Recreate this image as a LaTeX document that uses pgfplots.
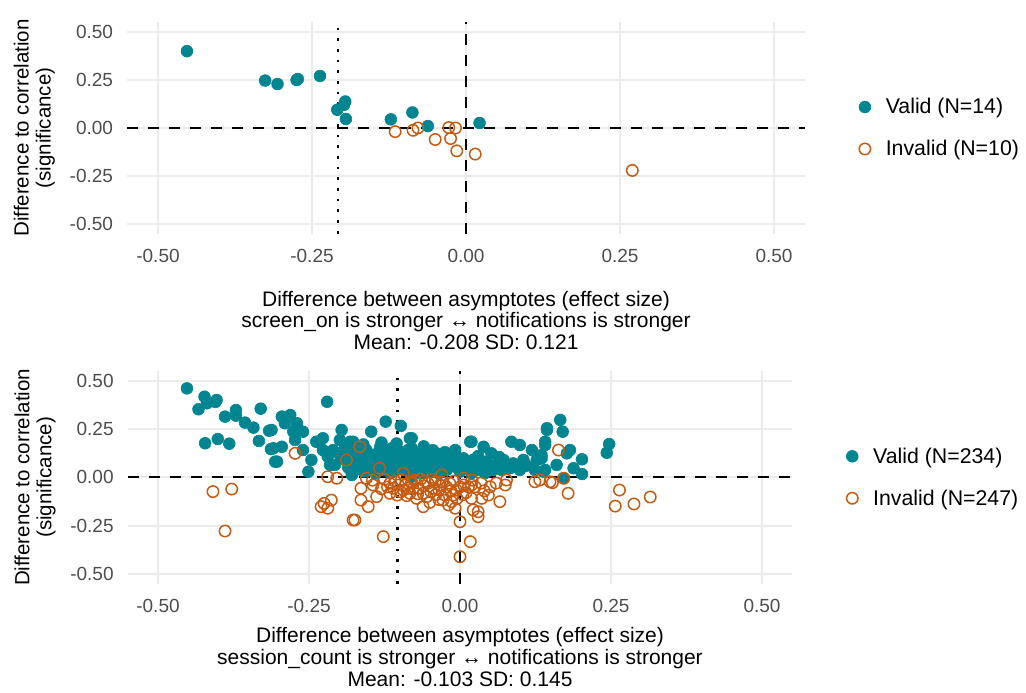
\documentclass[border=0pt]{standalone}
\usepackage{pgfplots}
\pgfplotsset{compat=1.18}
\usepackage{fontspec}
\setmainfont{Liberation Sans}
\definecolor{vteal}{RGB}{0,133,145}
\definecolor{iorange}{RGB}{197,90,17}
\definecolor{gridc}{RGB}{235,235,235}
\definecolor{ticktext}{RGB}{77,77,77}
\pgfplotsset{
  myax/.style={
    scale only axis,
    xmin=-0.55,xmax=0.55,ymin=-0.55,ymax=0.55,
    axis line style={draw=none},
    tick style={draw=none},
    major tick length=0pt,
    xtick={-0.5,-0.25,0,0.25,0.5},
    xticklabels={-0.50,-0.25,0.00,0.25,0.50},
    ytick={-0.5,-0.25,0,0.25,0.5},
    yticklabels={-0.50,-0.25,0.00,0.25,0.50},
    grid=major,
    major grid style={color=gridc,line width=2pt},
    xticklabel style={font=\fontsize{19}{20}\selectfont, text=ticktext, anchor=north, inner sep=0pt, yshift=-15.5pt},
    yticklabel style={font=\fontsize{19}{20}\selectfont, text=ticktext, anchor=east, inner sep=0pt, xshift=-14pt},
    ylabel style={font=\fontsize{20.5}{22}\selectfont, align=center, at={(axis description cs:0,0.5)}, anchor=south, inner sep=0pt, yshift=72pt},
    legend style={draw=none, fill=none, at={(1,0.5)}, anchor=west, xshift=51pt, font=\fontsize{21.3}{22}\selectfont, row sep=25pt, nodes={inner sep=0pt}, /tikz/every odd column/.append style={column sep=15pt}},
    legend cell align=left,
    clip=false,
  },
  validp/.style={only marks, color=vteal, mark=*, mark size=5.9pt, mark options={fill=vteal, draw=vteal, line width=0.6pt},
    legend image code/.code={\draw[##1] plot coordinates {(0pt,0pt)};}},
  invalp/.style={only marks, color=iorange, mark=o, mark size=5.7pt, mark options={draw=iorange, fill=none, line width=1.5pt},
    legend image code/.code={\draw[##1] plot coordinates {(0pt,0pt)};}},
  hl/.style={forget plot, black, line width=2pt, dash pattern=on 11pt off 10pt},
  dl/.style={forget plot, black, line width=2.7pt, dash pattern=on 2.7pt off 8pt},
}
\begin{document}
\begin{tikzpicture}[x=1pt,y=1pt]
\useasboundingbox (0,0) rectangle (1026,693);
% ---------------- top panel ----------------
\begin{axis}[myax, at={(127.2pt,459.4pt)}, anchor=south west, width=677.6pt, height=211.2pt,
  xlabel style={font=\fontsize{21}{21.8}\selectfont, align=center, at={(axis description cs:0.5,0)}, anchor=north, inner sep=0pt, yshift=-57pt},
  xlabel={Difference between asymptotes (effect size)\\screen\_on is stronger ↔ notifications is stronger\\Mean: -0.208 SD: 0.121},
  ylabel={Difference to correlation\\(significance)}]
\addplot[hl] coordinates {(-0.55,0) (0.55,0)};
\addplot[hl] coordinates {(0,-0.55) (0,0.55)};
\addplot[dl] coordinates {(-0.208,-0.55) (-0.208,0.55)};
\addplot[validp] coordinates {
(-0.453,0.400) (-0.326,0.247) (-0.306,0.229) (-0.275,0.250) (-0.273,0.255)
(-0.237,0.271) (-0.209,0.095) (-0.196,0.138) (-0.198,0.121) (-0.195,0.047)
(-0.122,0.045) (-0.087,0.081) (-0.062,0.010) (0.022,0.026)
};
\addlegendentry{Valid (N=14)}
\addplot[invalp] coordinates {
(-0.115,-0.019) (-0.086,-0.012) (-0.078,0.000) (-0.050,-0.060) (-0.028,0.002)
(-0.017,0.000) (-0.025,-0.055) (-0.015,-0.119) (0.015,-0.136) (0.270,-0.221)
};
\addlegendentry{Invalid (N=10)}
\end{axis}
% ---------------- bottom panel ----------------
\begin{axis}[myax, at={(127.8pt,109.4pt)}, anchor=south west, width=664.4pt, height=212.6pt,
  xlabel style={font=\fontsize{21}{21.8}\selectfont, align=center, at={(axis description cs:0.5,0)}, anchor=north, inner sep=0pt, yshift=-43.6pt},
  xlabel={Difference between asymptotes (effect size)\\session\_count is stronger ↔ notifications is stronger\\Mean: -0.103 SD: 0.145},
  ylabel={Difference to correlation\\(significance)}]
\addplot[hl] coordinates {(-0.55,0) (0.55,0)};
\addplot[hl] coordinates {(0,-0.55) (0,0.55)};
\addplot[dl] coordinates {(-0.103,-0.55) (-0.103,0.55)};
\addplot[validp] coordinates {
(-0.452,0.460) (-0.423,0.417) (-0.433,0.352) (-0.419,0.383) (-0.403,0.400) (-0.405,0.390)
(-0.389,0.314) (-0.371,0.348) (-0.371,0.319) (-0.356,0.283) (-0.342,0.257) (-0.330,0.355)
(-0.316,0.241) (-0.333,0.188) (-0.313,0.146) (-0.306,0.081) (-0.422,0.176) (-0.401,0.198)
(-0.382,0.174)
(-0.220,0.391) (-0.295,0.314) (-0.281,0.322) (-0.290,0.280) (-0.270,0.280) (-0.276,0.236)
(-0.260,0.236) (-0.312,0.245) (-0.309,0.150) (-0.295,0.158) (-0.303,0.081) (-0.273,0.193)
(-0.260,0.141) (-0.246,0.090) (-0.251,0.029) (-0.238,0.184) (-0.227,0.202) (-0.227,0.141)
(-0.219,0.107) (-0.210,0.141) (-0.207,0.064) (-0.196,0.245) (-0.199,0.193) (-0.190,0.158)
(-0.182,0.184) (-0.179,0.012) (-0.182,0.107) (-0.215,0.064)
(-0.123,0.288) (-0.098,0.266) (-0.147,0.236) (-0.083,0.202) (-0.177,0.184) (-0.172,0.150)
(-0.155,0.141) (-0.132,0.158) (-0.113,0.150) (-0.099,0.132) (-0.086,0.141) (-0.161,0.107)
(-0.144,0.115) (-0.128,0.098) (-0.110,0.115) (-0.094,0.098) (-0.080,0.107) (-0.179,0.021)
(-0.166,0.055) (-0.149,0.038) (-0.127,0.038) (-0.110,0.047) (-0.094,0.038) (-0.080,0.047)
(-0.170,0.085) (-0.155,0.075) (-0.140,0.070) (-0.120,0.070) (-0.100,0.065) (-0.085,0.072)
(-0.165,0.120) (-0.135,0.130) (-0.118,0.125) (-0.105,0.085) (-0.090,0.060) (-0.150,0.100)
(-0.175,0.110) (-0.140,0.020) (-0.115,0.020) (-0.160,0.030)
(-0.190,0.090) (-0.200,0.120) (-0.185,0.050) (-0.130,0.180) (-0.160,0.170) (-0.105,0.175)
(-0.080,0.150) (-0.060,0.160) (-0.045,0.140) (-0.025,0.130) (-0.010,0.100)
(-0.080,0.202) (-0.061,0.141) (-0.039,0.124) (-0.008,0.141) (0.017,0.184) (-0.077,0.107)
(-0.050,0.090) (-0.028,0.107) (0.006,0.098) (0.022,0.090) (-0.072,0.038) (-0.055,0.047)
(-0.033,0.055) (-0.011,0.064) (0.011,0.047) (-0.080,0.003) (-0.022,0.038) (0.000,0.029)
(0.019,0.021) (-0.063,0.072) (-0.041,0.064)
(-0.070,0.080) (-0.055,0.100) (-0.045,0.030) (-0.020,0.080) (-0.005,0.050) (0.010,0.075)
(-0.065,0.020) (-0.035,0.020) (-0.015,0.110) (-0.070,0.120)
(0.019,0.184) (0.039,0.158) (0.052,0.124) (0.085,0.184) (0.099,0.167) (0.119,0.141)
(0.141,0.184) (0.144,0.254) (0.072,0.090) (0.022,0.090) (0.044,0.081) (0.088,0.072)
(0.105,0.090) (0.127,0.090) (0.135,0.115) (0.028,0.038) (0.041,0.021) (0.055,0.038)
(0.069,0.038) (0.083,0.047) (0.099,0.038) (0.124,0.038) (0.138,0.029)
(0.035,0.060) (0.060,0.065) (0.030,0.110) (0.065,0.105) (0.110,0.060)
(0.166,0.297) (0.144,0.245) (0.170,0.236) (0.141,0.167) (0.182,0.141) (0.177,0.124)
(0.202,0.093) (0.135,0.098) (0.160,0.064) (0.141,0.038) (0.188,0.047) (0.202,0.017)
(0.171,-0.005) (0.247,0.172) (0.243,0.127)
};
\addlegendentry{Valid (N=234)}
\addplot[invalp] coordinates {
(-0.409,-0.074) (-0.378,-0.061) (-0.389,-0.278)
(-0.273,0.124) (-0.219,0.003) (-0.204,-0.005) (-0.188,0.090) (-0.230,-0.152) (-0.225,-0.135)
(-0.213,-0.118) (-0.219,-0.160) (-0.177,-0.221)
(-0.166,0.158) (-0.133,0.047) (-0.094,0.021) (-0.164,-0.057) (-0.144,-0.040) (-0.138,-0.100)
(-0.164,-0.118) (-0.152,-0.152) (-0.174,-0.221) (-0.127,-0.307) (-0.116,-0.031) (-0.110,-0.057)
(-0.102,-0.040) (-0.094,-0.066) (-0.086,-0.057) (-0.083,-0.083) (-0.104,-0.092) (-0.116,-0.083)
(-0.097,-0.014) (-0.080,-0.023)
(-0.080,-0.031) (-0.069,-0.057) (-0.061,-0.083) (-0.053,-0.031) (-0.044,-0.057) (-0.030,0.012)
(-0.033,-0.040) (-0.025,-0.092) (-0.019,-0.143) (-0.014,-0.126) (-0.008,-0.160) (0.000,-0.230)
(0.000,-0.411) (0.017,-0.333) (0.006,-0.005) (0.006,-0.040) (-0.006,-0.066) (0.014,-0.049)
(0.019,-0.109) (0.022,-0.169) (-0.061,-0.152) (-0.041,-0.023) (-0.017,-0.031) (-0.028,-0.118)
(-0.011,-0.092) (-0.072,-0.109)
(-0.075,-0.015) (-0.060,-0.045) (-0.048,-0.075) (-0.035,-0.065) (-0.022,-0.050) (-0.010,-0.020)
(-0.065,-0.010) (-0.045,-0.010) (-0.090,-0.040) (-0.055,-0.100) (-0.005,-0.110) (0.010,-0.080)
(0.019,-0.040) (0.025,-0.049) (0.036,-0.109) (0.047,-0.092) (0.050,-0.049) (0.066,-0.126)
(0.075,-0.040) (0.077,-0.014) (0.030,-0.178) (0.030,-0.204) (0.124,-0.023) (0.149,-0.023)
(0.040,-0.070) (0.060,-0.030)
(0.163,0.141) (0.132,-0.014) (0.153,-0.028) (0.172,-0.005) (0.179,-0.083) (0.264,-0.066)
(0.257,-0.149) (0.288,-0.138) (0.315,-0.102)
(-0.125,-0.010) (-0.130,-0.060) (-0.120,-0.050) (-0.108,-0.020) (-0.098,-0.075) (-0.088,-0.095)
(-0.078,-0.060) (-0.070,-0.085) (-0.058,-0.020) (-0.040,-0.090) (-0.030,-0.025) (-0.015,-0.070)
(0.000,-0.050) (0.005,-0.090) (0.020,-0.015) (0.035,-0.030) (-0.145,-0.015) (-0.155,-0.005)
(-0.050,-0.130) (-0.035,-0.115)
};
\addlegendentry{Invalid (N=247)}
\end{axis}
\end{tikzpicture}
\end{document}
